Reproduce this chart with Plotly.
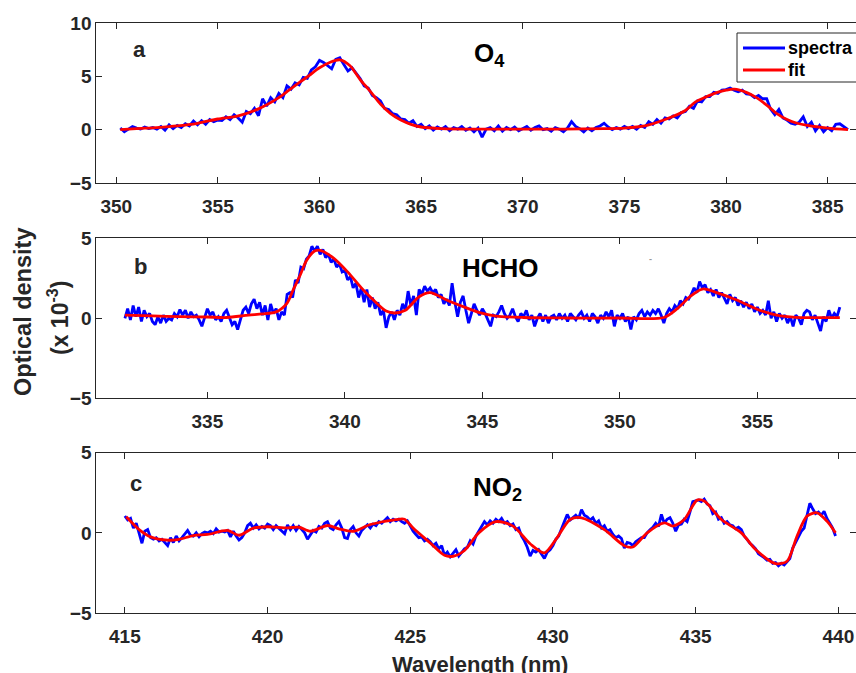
import numpy as np
import plotly.graph_objects as go

# ---------------- data (optical density, x 10^-3) ----------------
# (a) O4 window: measured spectrum, 0.2 nm grid from 350.2 nm
wl_a_start, wl_a_step = 350.2, 0.2
spec_a = [
    0.15, -0.2, 0.05, 0.3, 0.15, 0.05, 0.25, 0.1, 0.2, 0.05,
    0.3, -0.05, 0.45, 0.1, 0.4, 0.2, 0.55, 0.35, 0.8, 0.45,
    0.85, 0.5, 0.95, 0.75, 0.9, 0.85, 1.2, 0.95, 1.4, 1.1,
    0.7, 1.7, 1.5, 2.0, 1.3, 2.9, 2.2, 3.0, 2.6, 3.4,
    3.0, 4.1, 3.8, 4.4, 4.2, 4.9, 4.8, 5.6, 5.9, 6.5,
    6.3, 6.0, 5.7, 6.6, 6.75, 6.1, 5.5, 5.8, 5.3, 4.8,
    4.1, 3.9, 3.2, 3.0, 2.7, 2.0, 1.9, 1.5, 1.4, 1.0,
    0.95, 0.6, 0.85, 0.3, 0.5, 0.1, 0.35, -0.05, 0.25, 0.05,
    0.3, -0.1, 0.2, 0.05, 0.3, -0.05, 0.15, -0.2, 0.15, -0.7,
    0.05, 0.2, -0.1, 0.35, -0.15, 0.2, 0.0, 0.25, -0.1, 0.1,
    0.3, -0.05, 0.2, 0.35, 0.0, 0.1, -0.15, 0.2, 0.05, -0.2,
    0.15, 0.75, 0.3, 0.1, -0.2, 0.15, -0.1, 0.2, 0.35, 0.6,
    0.25, 0.0, 0.2, 0.05, 0.3, 0.1, 0.3, 0.05, 0.4, 0.2,
    0.75, 0.5, 0.95, 0.6, 1.1, 1.0, 1.3, 1.1, 1.6, 1.7,
    2.2, 2.0, 2.7, 2.6, 3.1, 3.1, 3.5, 3.4, 3.7, 3.75,
    3.9, 3.7, 3.55, 3.7, 3.35, 3.3, 3.0, 3.2, 2.9, 2.9,
    1.9, 1.4, 1.9, 1.1, 0.9, 0.6, 0.5, 0.7, 1.2, 0.3,
    0.7, -0.1, 0.4, -0.2, 0.2, -0.1, 0.5, 0.55, 0.3, 0.0,
]
fit_a_wl = [350.2, 351, 352, 353, 354, 355, 356, 357, 358, 358.5, 359, 359.5,
            360, 360.5, 361, 361.5, 362, 362.5, 363, 363.5, 364, 364.5, 365,
            366, 368, 370, 372, 374, 375, 376, 377, 378, 378.5, 379, 379.5,
            380, 380.4, 381, 381.5, 382, 382.5, 383, 383.5, 384, 385, 386]
fit_a = [0.0, 0.1, 0.2, 0.35, 0.6, 1.0, 1.3, 1.95, 3.0, 3.7, 4.4, 5.1,
         5.8, 6.3, 6.55, 6.0, 4.7, 3.6, 2.4, 1.5, 0.9, 0.5, 0.25,
         0.1, 0.05, 0.05, 0.05, 0.1, 0.15, 0.35, 0.95, 1.8, 2.6, 3.05, 3.45,
         3.7, 3.8, 3.5, 3.0, 2.3, 1.5, 0.95, 0.6, 0.4, 0.15, 0.0]

# (b) HCHO window: measured spectrum, 0.1 nm grid from 332.0 nm
wl_b_start, wl_b_step = 332.0, 0.1
spec_b = [
    0.0, 0.6, -0.1, 0.8, 0.1, 0.7, -0.2, 0.5, 0.1, 0.3,
    -0.2, -0.4, 0.1, -0.3, 0.2, -0.2, 0.0, -0.1, 0.3, 0.1,
    0.55, 0.2, 0.5, 0.0, 0.4, 0.1, 0.2, -0.1, -0.5, 0.1,
    0.6, 0.2, 0.4, -0.1, 0.1, -0.2, 0.3, 0.5, 0.0, -0.4,
    -0.2, -0.7, -0.1, 0.5, 0.7, 0.3, 0.9, 1.2, 0.6, 1.0,
    0.2, 0.8, -0.1, 0.9, 0.3, 0.6, -0.1, 0.4, 0.2, 1.5,
    1.6, 1.3, 2.4, 2.2, 3.2, 3.1, 3.7, 3.9, 4.5, 4.2,
    4.5, 4.0, 4.3, 3.8, 4.0, 3.5, 3.7, 3.2, 3.4, 2.9,
    3.0, 2.4, 2.6, 1.9, 2.2, 1.3, 1.9, 1.0, 1.8, 0.7,
    1.3, 0.6, 1.0, 0.2, 0.5, -0.6, 0.1, 0.4, -0.1, 0.5,
    0.2, 0.9, 0.5, 1.7, 0.8, 1.4, 0.2, 1.8, 1.5, 2.0,
    1.7, 1.9, 1.6, 1.8, 1.3, 1.5, 0.9, 1.2, 0.8, 2.2,
    1.0, 0.1, 1.0, 1.4, 0.5, -0.3, 0.3, 0.9, 0.5, 0.2,
    0.6, 0.3, -0.1, -0.5, 0.2, 0.1, 0.4, 0.8, 0.3, 0.0,
    0.2, 0.6, 0.1, -0.2, 0.3, 0.1, 0.5, -0.1, 0.2, -0.5,
    0.0, 0.3, -0.2, 0.2, -0.3, 0.1, 0.2, -0.1, 0.3, 0.0,
    0.2, -0.2, 0.3, 0.1, -0.1, 0.2, 0.4, 0.0, 0.2, -0.2,
    0.3, 0.1, -0.3, 0.2, 0.0, 0.4, 0.1, 0.5, -0.5, 0.2,
    0.0, 0.3, -0.2, 0.1, -0.7, 0.1, -0.1, 0.3, 0.5, 0.1,
    0.4, 0.2, 0.5, 0.3, 0.6, 0.2, -0.3, 0.3, 0.6, 0.4,
    0.8, 0.6, 1.1, 0.9, 1.3, 1.2, 1.5, 1.9, 1.6, 2.3,
    1.9, 2.1, 1.6, 1.8, 1.4, 1.8, 1.3, 1.6, 1.2, 0.9,
    1.5, 1.1, 1.3, 0.8, 1.1, 0.7, 1.0, 0.6, 0.9, 0.4,
    0.7, 0.3, 0.5, 0.2, 1.1, 0.0, 0.4, -0.2, 0.3, 0.0,
    0.2, -0.3, 0.1, -0.5, 0.2, 0.0, -0.4, 0.3, 0.5, 0.4,
    -0.1, 0.2, -0.3, -0.8, 0.1, -0.2, 0.5, 0.0, 0.3, 0.1,
    0.7,
]
fit_b_wl = [332.0, 333, 334, 335, 335.7, 336.5, 337.0, 337.5, 337.9, 338.1,
            338.4, 338.6, 338.9, 339.1, 339.6, 340.1, 340.6, 341.0, 341.5,
            341.8, 342.2, 342.7, 343.1, 343.7, 344.3, 344.9, 345.5, 346.5,
            348, 350, 351.6, 352.1, 352.55, 353.0, 353.6, 354.25, 355.0,
            355.7, 356.4, 357.0, 358.0]
fit_b = [0.2, 0.15, 0.1, 0.08, 0.05, 0.2, 0.27, 0.4, 0.95, 1.7,
         2.8, 3.6, 4.2, 4.25, 3.75, 2.9, 1.9, 1.2, 0.45,
         0.33, 0.5, 1.35, 1.6, 1.14, 0.73, 0.35, 0.14, 0.05,
         0.02, 0.02, 0.05, 0.62, 1.35, 1.83, 1.56, 1.14, 0.56,
         0.2, 0.06, 0.04, 0.04]

# (c) NO2 window: measured spectrum, 0.1 nm grid from 415.0 nm
wl_c_start, wl_c_step = 415.0, 0.1
spec_c = [
    1.05, 0.8, 0.9, 0.3, 0.6, 0.0, -0.65, 0.1, 0.2, -0.3,
    -0.4, -0.3, -0.5, -0.4, -0.6, -0.8, -0.3, -0.6, -0.2, -0.5,
    -0.3, -0.1, 0.15, -0.15, -0.2, 0.0, -0.25, -0.05, 0.05, 0.0,
    0.1, -0.05, 0.25, 0.05, 0.1, 0.05, 0.15, -0.25, 0.1, -0.2,
    -0.45, -0.3, 0.0, 0.45, 0.6, 0.3, 0.5, 0.25, 0.4, 0.3,
    0.55, 0.45, 0.2, 0.45, 0.3, 0.15, -0.05, 0.5, 0.2, 0.45,
    0.15, 0.4, 0.2, 0.0, -0.4, -0.15, 0.15, 0.05, 0.4, 0.3,
    0.6, 0.7, 0.3, 0.2, 0.5, 0.7, 0.3, -0.3, -0.35, 0.2,
    0.4, 0.0, -0.2, 0.15, 0.3, 0.5, 0.3, 0.55, 0.45, 0.7,
    0.6, 0.75, 0.95, 0.7, 0.85, 0.75, 0.85, 0.7, 0.6, 0.75,
    0.4, 0.1, -0.1, -0.3, -0.25, -0.5, -0.4, -0.55, -0.8, -0.65,
    -1.0, -0.8, -1.4, -1.2, -1.5, -1.3, -1.05, -1.45, -1.2, -1.0,
    -0.9, -0.5, -0.7, -0.2, 0.1, 0.4, 0.7, 0.5, 0.75, 0.6,
    0.85, 0.7, 0.9, 0.6, 0.7, 0.45, 0.55, 0.2, 0.3, -0.2,
    -0.5, -0.9, -1.45, -1.1, -1.2, -1.05, -1.35, -1.6, -1.2, -1.05,
    -0.8, -0.4, -0.2, 0.3, 0.7, 1.15, 0.8, 0.95, 1.1, 0.9,
    1.45, 1.1, 1.0, 0.8, 0.95, 0.6, 0.75, 0.3, 0.45, 0.1,
    0.2, -0.1, -0.3, -0.2, -0.35, -0.95, -0.6, -0.65, -0.8, -0.55,
    -0.4, -0.3, -0.3, 0.0, 0.2, 0.35, 0.6, 0.4, 1.15, 0.6,
    0.85, 0.95, 0.6, 0.1, 0.5, 0.55, 0.85, 0.7, 1.3, 1.95,
    2.0, 2.05, 1.95, 2.1, 1.8, 1.7, 1.2, 1.3, 0.85, 0.95,
    0.6, 0.7, 0.5, 0.45, 0.25, 0.35, 0.2, -0.2, -0.4, -0.65,
    -0.8, -1.0, -1.3, -1.4, -1.55, -1.7, -1.65, -1.9, -1.85, -2.05,
    -1.9, -2.0, -1.8, -1.6, -0.95, -0.6, -0.3, 0.1, 0.3, 1.0,
    1.85, 1.5, 1.2, 1.3, 1.1, 1.35, 0.9, 0.6, 0.3, -0.2,
]
fit_c_wl = [415.05, 415.5, 415.9, 416.5, 416.9, 417.4, 417.9, 418.6, 419.0,
            419.5, 420.0, 420.7, 421.1, 421.5, 422.1, 422.5, 423.0, 423.6,
            424.5, 424.8, 425.1, 425.7, 426.2, 426.5, 426.9, 427.4, 428.0,
            428.6, 429.2, 429.7, 430.1, 430.6, 431.0, 431.8, 432.5, 432.8,
            433.3, 433.9, 434.2, 434.6, 435.05, 435.3, 435.9, 436.6, 437.1,
            437.8, 438.2, 438.55, 438.9, 439.25, 439.6, 439.9]
fit_c = [1.0, 0.2, -0.25, -0.46, -0.4, -0.17, -0.1, 0.15, -0.15,
         0.3, 0.38, 0.31, 0.35, 0.1, 0.46, 0.25, 0.1, 0.52,
         0.83, 0.85, 0.3, -0.63, -1.4, -1.46, -1.1, 0.0, 0.7,
         0.42, -0.68, -1.25, -0.42, 0.83, 0.94, 0.2, -0.8, -0.88,
         0.0, 0.62, 0.42, 0.83, 2.04, 1.98, 0.83, 0.0, -1.04,
         -1.92, -1.77, -0.21, 1.04, 1.25, 0.73, 0.0]

x_ticks_a = [350, 355, 360, 365, 370, 375, 380, 385]
x_ticks_b = [335, 340, 345, 350, 355]
x_ticks_c = [415, 420, 425, 430, 435, 440]
y_ticks_a = [-5, 0, 5, 10]
y_ticks_bc = [-5, 0, 5]
legend_names = ["spectra", "fit"]


def grid(start, step, n):
    return np.round(start + step * np.arange(n), 2)


wl_a = grid(wl_a_start, wl_a_step, len(spec_a))
wl_b = grid(wl_b_start, wl_b_step, len(spec_b))
wl_c = grid(wl_c_start, wl_c_step, len(spec_c))

BLUE = "#0000FF"
RED = "#FF0000"
AXC = "#262626"
FONT = "Liberation Sans, Arial, sans-serif"
LW = 2.8

fig = go.Figure()
panels = [
    ("", wl_a, spec_a, fit_a_wl, fit_a),
    ("2", wl_b, spec_b, fit_b_wl, fit_b),
    ("3", wl_c, spec_c, fit_c_wl, fit_c),
]
for suf, wl, sp, fwl, fv in panels:
    fig.add_trace(go.Scatter(x=wl, y=sp, mode="lines", name=legend_names[0],
                             line=dict(color=BLUE, width=LW),
                             xaxis="x" + suf, yaxis="y" + suf,
                             showlegend=False))
    fig.add_trace(go.Scatter(x=fwl, y=fv, mode="lines", name=legend_names[1],
                             line=dict(color=RED, width=LW, shape="spline",
                                       smoothing=0.8),
                             xaxis="x" + suf, yaxis="y" + suf,
                             showlegend=False))

W, H = 856, 673
xdom = [96.3 / W, 855.5 / W]


def px(x):
    return x / W


def py(y):
    return 1 - y / H


def ydom(top, bottom):
    return [py(bottom), py(top)]


axis_common = dict(
    showline=True, linecolor=AXC, linewidth=1, mirror="ticks",
    ticks="inside", ticklen=6, tickwidth=1, tickcolor=AXC,
    showgrid=False, zeroline=False, automargin=False,
    tickfont=dict(family=FONT, size=19, color=AXC, weight="bold"),
)

fig.update_layout(
    width=W, height=H, autosize=False, showlegend=False,
    margin=dict(l=0, r=0, t=0, b=0, pad=0, autoexpand=False),
    plot_bgcolor="white", paper_bgcolor="white",
    xaxis=dict(axis_common, domain=xdom, range=[349.02, 386.37],
               tickvals=x_ticks_a, anchor="y", ticklabelstandoff=6),
    yaxis=dict(axis_common, domain=ydom(23, 183), range=[-5, 10],
               tickvals=y_ticks_a, anchor="x"),
    xaxis2=dict(axis_common, domain=xdom, range=[330.96, 358.57],
                tickvals=x_ticks_b, anchor="y2", ticklabelstandoff=6),
    yaxis2=dict(axis_common, domain=ydom(238.3, 398.3), range=[-5, 5],
                tickvals=y_ticks_bc, anchor="x2"),
    xaxis3=dict(axis_common, domain=xdom, range=[414.0, 440.6],
                tickvals=x_ticks_c, anchor="y3", ticklabelstandoff=6),
    yaxis3=dict(axis_common, domain=ydom(452.7, 613), range=[-5, 5],
                tickvals=y_ticks_bc, anchor="x3"),
)

# legend box for panel (a): frame, line samples and entry labels
shapes = [
    dict(type="rect", xref="paper", yref="paper",
         x0=px(737), x1=px(860), y0=py(82), y1=py(33),
         line=dict(color=AXC, width=1), fillcolor="white", layer="above"),
    dict(type="line", xref="paper", yref="paper",
         x0=px(743), x1=px(785), y0=py(48), y1=py(48),
         line=dict(color=BLUE, width=LW), layer="above"),
    dict(type="line", xref="paper", yref="paper",
         x0=px(743), x1=px(785), y0=py(70), y1=py(70),
         line=dict(color=RED, width=LW), layer="above"),
]
fig.update_layout(shapes=shapes)

ann = []


def label(text, x, y, size, color, angle=0, xanchor="center"):
    ann.append(dict(text=text, x=px(x), y=py(y), xref="paper",
                    yref="paper", showarrow=False, textangle=angle,
                    xanchor=xanchor, yanchor="middle",
                    font=dict(family=FONT, size=size, color=color,
                              weight="bold")))


label(legend_names[0], 786, 48, 18, "black", xanchor="left")
label(legend_names[1], 786, 70, 18, "black", xanchor="left")
label("a", 139, 50, 22, AXC)
label("b", 140, 267, 22, AXC)
label("c", 136, 483, 22, AXC)
label("O<sub>4</sub>", 489, 54, 26, "black")
label("HCHO", 500, 268, 26, "black")
label("NO<sub>2</sub>", 497, 488, 26, "black")
label("-", 650, 259, 9, "#999999")
label("Optical density", 23, 312, 23.5, AXC, -90)
label("(x 10<sup>-3</sup>)", 58, 318, 23, AXC, -90)
label("Wavelength (nm)", 480, 664, 22, AXC)
fig.update_layout(annotations=ann)

fig.write_html("out.html")
